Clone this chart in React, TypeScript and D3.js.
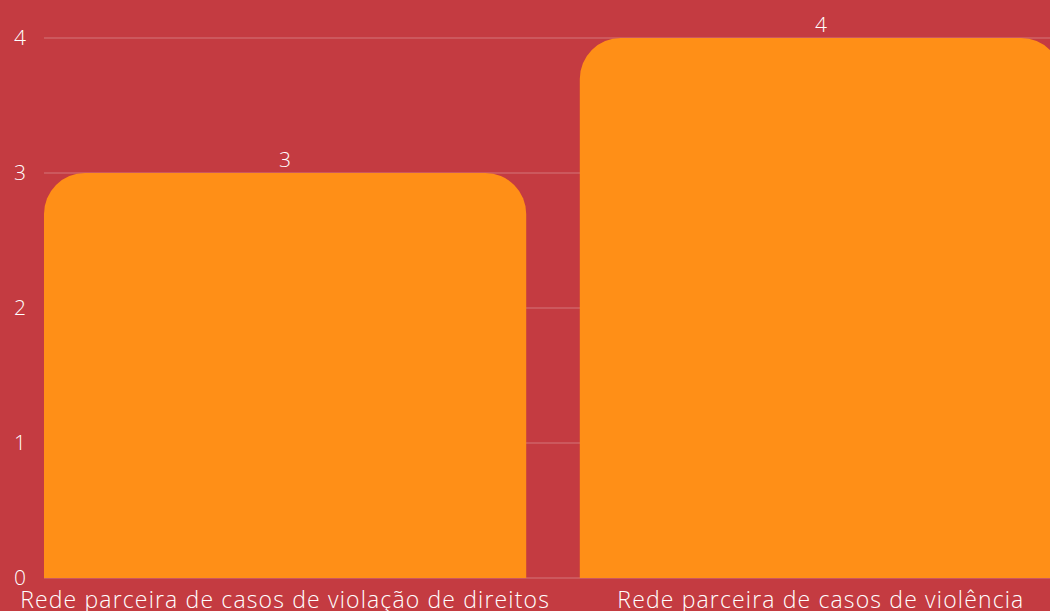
import React from "react";
import * as d3 from "d3";

const categories = [
  "Rede parceira de casos de violação de direitos",
  "Rede parceira de casos de violência",
];
const values = [3, 4];
const yTicks = [0, 1, 2, 3, 4];

const W = 1050;
const H = 611;
const BG = "#C43B41";
const BAR = "#FF8F17";
const FONT = "'Open Sans', sans-serif";

function topRoundedRect(x: number, y: number, w: number, h: number, r: number) {
  const rr = Math.min(r, w / 2, h);
  return `M${x},${y + h}V${y + rr}A${rr},${rr} 0 0 1 ${x + rr},${y}H${x + w - rr}A${rr},${rr} 0 0 1 ${x + w},${y + rr}V${y + h}Z`;
}

export default function App() {
  const x = d3.scaleBand<string>().domain(categories).range([44, 1062]).paddingInner(0.1).paddingOuter(0);
  const y = d3.scaleLinear().domain([0, 4]).range([578, 38]);
  return (
    <svg width={W} height={H} style={{ position: "absolute", left: 0, top: 0, display: "block" }}>
      <rect width={W} height={H} fill={BG} />
      {yTicks.map((t) => (
        <line key={t} x1={44} x2={W} y1={y(t)} y2={y(t)} stroke="rgba(255,255,255,0.3)" strokeWidth={1} />
      ))}
      {yTicks.map((t) => (
        <text key={"l" + t} x={26} y={y(t)} dy="0.35em" textAnchor="end" fill="#fff" fontFamily={FONT} fontWeight={300} fontSize={21}>
          {t}
        </text>
      ))}
      {categories.map((c, i) => (
        <path key={c} d={topRoundedRect(x(c)!, y(values[i]), x.bandwidth(), y(0) - y(values[i]), 41)} fill={BAR} />
      ))}
      {categories.map((c, i) => (
        <text key={"v" + c} x={x(c)! + x.bandwidth() / 2} y={y(values[i]) - 6} textAnchor="middle" fill="#fff" fontFamily={FONT} fontWeight={300} fontSize={21}>
          {values[i]}
        </text>
      ))}
      {categories.map((c) => (
        <text key={"c" + c} x={x(c)! + x.bandwidth() / 2} y={608} textAnchor="middle" fill="#fff" fontFamily={FONT} fontWeight={300} fontSize={23} letterSpacing={1.15}>
          {c}
        </text>
      ))}
    </svg>
  );
}
